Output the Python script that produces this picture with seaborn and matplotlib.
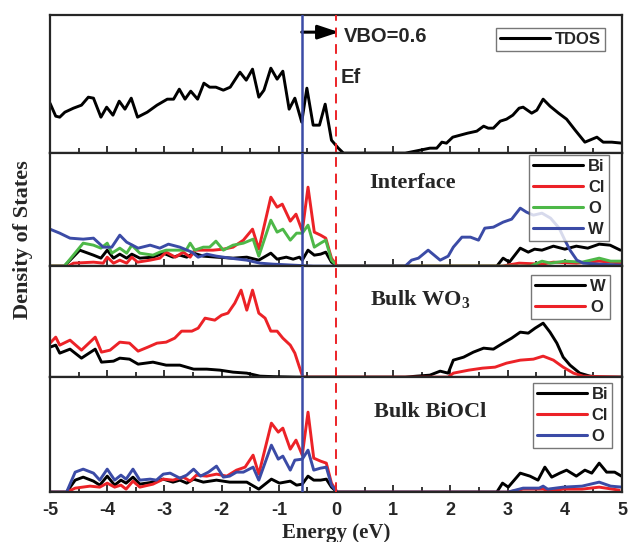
import matplotlib
matplotlib.use("Agg")
import matplotlib.pyplot as plt
import seaborn as sns

# ---- data (arbitrary DOS units) ----
tdos_e = [-5.0, -4.9, -4.83, -4.74, -4.59, -4.45, -4.33, -4.24, -4.11, -4.01, -3.90, -3.79, -3.69, -3.58,
          -3.47, -3.30, -3.13, -2.95, -2.84, -2.74, -2.64, -2.54, -2.42, -2.31, -2.21, -2.10, -1.97, -1.85,
          -1.68, -1.57, -1.46, -1.35, -1.26, -1.14, -1.03, -0.93, -0.82, -0.72, -0.60, -0.51, -0.40, -0.29,
          -0.19, -0.08, 0.04, 0.13, 1.21, 1.47, 1.64, 1.76, 1.85, 1.93, 2.04, 2.17, 2.30, 2.46, 2.58, 2.66,
          2.75, 2.87, 2.98, 3.09, 3.20, 3.27, 3.42, 3.51, 3.62, 3.74, 3.89, 4.03, 4.18, 4.35, 4.56, 4.67,
          4.82, 5.0]
tdos_v = [50, 37, 36, 41, 45, 48, 56, 55, 36, 46, 38, 52, 44, 55, 36, 41, 48, 54, 54, 64, 54, 62, 54, 70,
          66, 66, 63, 66, 81, 73, 84, 56, 63, 85, 74, 82, 44, 55, 31, 65, 28, 28, 49, 13, 5, 0, 0, 3, 5, 5,
          11, 10, 16, 18, 20, 22, 27, 25, 25, 32, 34, 38, 45, 46, 40, 43, 54, 47, 40, 34, 23, 11, 16, 11,
          11, 10]

# Interface
int_bi_e = [-5.0, -4.75, -4.48, -4.24, -4.11, -4.00, -3.89, -3.78, -3.66, -3.57, -3.43, -3.20, -3.02, -2.85,
            -2.73, -2.61, -2.49, -2.32, -2.09, -1.80, -1.56, -1.35, -1.14, -1.03, -0.87, -0.75, -0.64, -0.59,
            -0.49, -0.38, -0.27, -0.18, -0.08, 0.02, 2.81, 2.92, 3.03, 3.22, 3.36, 3.47, 3.6, 3.8, 4.0, 4.2,
            4.4, 4.6, 4.79, 4.97]
int_bi_v = [0, 0, 16, 11, 8, 16, 8, 12, 8, 12, 8, 9, 13, 9, 11, 9, 13, 10, 9, 8, 9, 6, 13, 7, 9, 7, 9, 6,
            16, 11, 12, 14, 4, 0, 0, 8, 4, 18, 14, 17, 16, 20, 17, 20, 18, 22, 21, 16]
int_cl_e = [-5.0, -4.68, -4.59, -4.24, -4.07, -4.00, -3.89, -3.78, -3.66, -3.57, -3.47, -3.25, -3.08, -2.97,
            -2.81, -2.67, -2.55, -2.47, -2.32, -2.15, -1.97, -1.80, -1.62, -1.46, -1.35, -1.14, -1.03, -0.94,
            -0.80, -0.70, -0.59, -0.49, -0.38, -0.27, -0.18, -0.08, 0.02, 2.9, 3.2, 3.6, 3.8, 4.2, 4.6, 5.0]
int_cl_v = [0, 0, 3, 4, 3, 9, 3, 6, 3, 9, 4, 6, 8, 14, 9, 14, 9, 16, 16, 16, 17, 19, 26, 37, 17, 69, 59, 62,
            45, 52, 35, 79, 34, 31, 28, 8, 0, 0, 3, 2, 4, 3, 5, 3]
int_o_e = [-5.0, -4.75, -4.42, -4.24, -4.11, -4.00, -3.92, -3.78, -3.66, -3.57, -3.43, -3.20, -3.08, -2.97,
           -2.79, -2.62, -2.55, -2.47, -2.32, -2.21, -2.10, -1.97, -1.80, -1.62, -1.45, -1.35, -1.14, -1.03,
           -0.93, -0.80, -0.69, -0.59, -0.49, -0.38, -0.27, -0.18, -0.08, 0.02, 3.4, 3.6, 3.75, 4.0, 4.3,
           4.6, 4.8, 5.0]
int_o_v = [0, 0, 23, 21, 18, 23, 13, 18, 13, 21, 13, 11, 14, 16, 16, 16, 23, 16, 19, 19, 25, 16, 21, 23, 27,
           10, 46, 34, 37, 26, 33, 33, 41, 19, 23, 26, 6, 0, 0, 5, 3, 5, 4, 8, 5, 5]
int_w_e = [-5.0, -4.83, -4.65, -4.42, -4.24, -4.07, -3.92, -3.78, -3.66, -3.46, -3.25, -3.08, -2.93, -2.73,
           -2.52, -2.41, -2.26, -2.09, -1.85, -1.56, -1.33, -1.10, -0.75, -0.4, 1.21, 1.32, 1.44, 1.61, 1.82,
           1.96, 2.05, 2.20, 2.35, 2.49, 2.60, 2.75, 2.92, 3.07, 3.22, 3.33, 3.45, 3.6, 3.75, 3.9, 4.0, 4.09,
           4.21, 4.32, 4.6, 5.0]
int_w_v = [37, 33, 28, 27, 28, 19, 19, 31, 24, 18, 21, 18, 22, 19, 14, 9, 12, 10, 8, 6, 3, 2, 1, 0, 0, 6, 8,
           16, 6, 10, 19, 29, 29, 26, 38, 39, 44, 47, 58, 54, 51, 53, 48, 38, 26, 16, 6, 3, 2, 1]

# Bulk WO3
wo3_w_e = [-5.0, -4.9, -4.83, -4.65, -4.45, -4.21, -4.10, -3.89, -3.78, -3.61, -3.46, -3.20, -2.97, -2.73,
           -2.49, -2.26, -2.03, -1.80, -1.56, -1.33, -1.10, -0.7, 1.21, 1.41, 1.64, 1.82, 1.96, 2.05, 2.23,
           2.40, 2.58, 2.75, 2.92, 3.07, 3.22, 3.36, 3.48, 3.62, 3.74, 3.86, 3.97, 4.09, 4.26, 4.44, 4.6, 5.0]
wo3_w_v = [30, 32, 24, 28, 19, 28, 15, 16, 19, 18, 13, 15, 12, 12, 8, 8, 7, 5, 4, 1, 0.5, 0, 0, 1, 2, 6, 4,
           17, 20, 25, 29, 28, 34, 39, 45, 44, 49, 54, 45, 34, 20, 12, 4, 1, 0, 0]
wo3_o_e = [-5.0, -4.9, -4.83, -4.65, -4.45, -4.21, -4.10, -3.95, -3.78, -3.61, -3.46, -3.29, -3.13, -2.97,
           -2.82, -2.70, -2.52, -2.41, -2.29, -2.12, -2.00, -1.89, -1.77, -1.66, -1.56, -1.46, -1.35, -1.24,
           -1.14, -1.03, -0.93, -0.80, -0.72, -0.64, -0.58, 1.96, 2.05, 2.32, 2.56, 2.78, 2.98, 3.22, 3.45,
           3.62, 3.80, 3.97, 4.15, 4.32, 5.0]
wo3_o_v = [34, 40, 32, 37, 27, 40, 25, 27, 35, 34, 26, 30, 34, 35, 39, 46, 46, 49, 59, 57, 62, 64, 74, 87,
           67, 87, 64, 59, 46, 46, 39, 32, 24, 10, 0, 0, 4, 7, 9, 10, 14, 17, 18, 21, 17, 10, 4, 1, 0]

# Bulk BiOCl
bio_bi_e = [-5.0, -4.71, -4.56, -4.42, -4.24, -4.13, -4.00, -3.87, -3.76, -3.67, -3.55, -3.43, -3.20, -3.02,
            -2.85, -2.73, -2.61, -2.49, -2.32, -2.09, -1.86, -1.56, -1.35, -1.13, -0.99, -0.80, -0.69, -0.59,
            -0.49, -0.39, -0.27, -0.17, -0.08, 0.02, 2.81, 2.91, 3.01, 3.22, 3.39, 3.53, 3.65, 3.77, 3.91,
            4.03, 4.20, 4.35, 4.47, 4.60, 4.73, 4.87, 4.99]
bio_bi_v = [0, 0, 12, 15, 11, 7, 16, 7, 12, 9, 15, 8, 10, 13, 10, 12, 9, 13, 10, 12, 10, 10, 3, 13, 9, 11,
            7, 8, 16, 12, 12, 13, 5, 0, 0, 9, 5, 19, 16, 12, 25, 15, 19, 22, 16, 22, 19, 29, 20, 20, 16]
bio_cl_e = [-5.0, -4.71, -4.56, -4.30, -4.13, -4.00, -3.87, -3.76, -3.67, -3.55, -3.43, -3.20, -3.02, -2.85,
            -2.67, -2.55, -2.44, -2.26, -2.09, -1.91, -1.74, -1.59, -1.45, -1.35, -1.13, -1.01, -0.93, -0.80,
            -0.70, -0.59, -0.49, -0.39, -0.27, -0.17, -0.08, 0.02, 3.0, 3.27, 3.62, 3.74, 3.97, 4.3, 4.60,
            4.95]
bio_cl_v = [0, 0, 4, 6, 5, 9, 5, 7, 3, 11, 5, 8, 13, 12, 15, 11, 17, 16, 18, 16, 22, 25, 37, 18, 69, 60, 64,
            43, 52, 37, 80, 34, 31, 29, 9, 0, 0, 3, 3, 1, 3, 3, 5, 2]
bio_o_e = [-5.0, -4.71, -4.56, -4.42, -4.24, -4.13, -4.00, -3.87, -3.76, -3.67, -3.55, -3.43, -3.25, -3.14,
           -3.02, -2.90, -2.73, -2.61, -2.49, -2.37, -2.23, -2.09, -1.97, -1.86, -1.74, -1.62, -1.45, -1.35,
           -1.13, -1.01, -0.93, -0.80, -0.72, -0.59, -0.49, -0.39, -0.27, -0.17, -0.08, 0.02, 3.0, 3.27,
           3.55, 3.62, 3.7, 3.97, 4.3, 4.60, 4.8, 5.0]
bio_o_v = [0, 0, 20, 23, 19, 12, 23, 12, 17, 13, 23, 12, 13, 12, 18, 19, 14, 17, 23, 16, 20, 26, 15, 16, 20,
           20, 25, 12, 47, 33, 36, 22, 32, 33, 42, 22, 24, 25, 7, 0, 0, 4, 4, 6, 3, 5, 6, 10, 6, 5]

vbm_bulk = -0.6
e_fermi = 0.0
x_ticks = [-5, -4, -3, -2, -1, 0, 1, 2, 3, 4, 5]

BLACK, RED, GREEN, BLUE = "#000000", "#ec2227", "#4db848", "#3b4ba6"
SANS = ["Liberation Sans", "DejaVu Sans"]
SERIF = ["Liberation Serif", "DejaVu Serif"]

sns.set_style("ticks")
plt.rcParams["font.family"] = SANS
plt.rcParams["font.weight"] = "bold"
plt.rcParams["axes.unicode_minus"] = False
plt.rcParams["mathtext.fontset"] = "custom"
plt.rcParams["mathtext.rm"] = "Liberation Serif:bold"
plt.rcParams["mathtext.bf"] = "Liberation Serif:bold"

fig = plt.figure(figsize=(6.29, 5.42), dpi=100)
gs = fig.add_gridspec(4, 1, height_ratios=[138, 113, 111, 115], hspace=0,
                      left=0.0795, right=0.989, top=0.972, bottom=0.092)
axes = [fig.add_subplot(gs[i]) for i in range(4)]

panels = [
    ([(tdos_e, tdos_v, BLACK, "TDOS")], 138, (0.970, 0.906), None, None),
    ([(int_bi_e, int_bi_v, BLACK, "Bi"), (int_cl_e, int_cl_v, RED, "Cl"),
      (int_o_e, int_o_v, GREEN, "O"), (int_w_e, int_w_v, BLUE, "W")], 113, (0.977, 0.985),
     "Interface", (0.633, 0.735)),
    ([(wo3_w_e, wo3_w_v, BLACK, "W"), (wo3_o_e, wo3_o_v, RED, "O")], 111, (0.979, 0.92),
     r"Bulk WO$_\mathbf{3}$", (0.647, 0.70)),
    ([(bio_bi_e, bio_bi_v, BLACK, "Bi"), (bio_cl_e, bio_cl_v, RED, "Cl"),
      (bio_o_e, bio_o_v, BLUE, "O")], 115, (0.983, 0.948), "Bulk BiOCl", (0.664, 0.696)),
]

for ax, (curves, ytop, leg_pos, title, title_pos) in zip(axes, panels):
    for e, v, col, lab in curves:
        sns.lineplot(x=e, y=v, ax=ax, color=col, lw=2.1, label=lab, estimator=None, sort=False)
    ax.axvline(vbm_bulk, color=BLUE, lw=1.8, zorder=4)
    ax.axvline(e_fermi, color=RED, lw=1.4, ls=(0, (5, 3.5)), zorder=4)
    ax.set_xlim(-5, 5)
    ax.set_ylim(0, ytop)
    ax.set_yticks([])
    ax.set_xticks(x_ticks)
    ax.set_xticks([t + 0.5 for t in x_ticks[:-1]], minor=True)
    ax.tick_params(axis="x", which="both", direction="in", width=1.3, top=False)
    ax.tick_params(axis="x", which="major", length=5, pad=7)
    ax.tick_params(axis="x", which="minor", length=3.5)
    ax.set_ylabel("")
    for s in ax.spines.values():
        s.set_linewidth(1.6)
    leg = ax.legend(loc="upper right", bbox_to_anchor=leg_pos, frameon=True, fancybox=False,
                    handlelength=3.0, handletextpad=0.3, labelspacing=0.35, borderpad=0.25,
                    borderaxespad=0, prop={"family": SANS, "weight": "bold", "size": 12})
    leg.get_frame().set_edgecolor("#555555")
    leg.get_frame().set_linewidth(1.0)
    for h in leg.get_lines():
        h.set_linewidth(2.2)
    if title:
        ax.text(*title_pos, title, transform=ax.transAxes, ha="center", va="center",
                family=SERIF, weight="bold", fontsize=16)

for ax in axes[:-1]:
    ax.tick_params(axis="x", labelbottom=False)
axes[-1].tick_params(axis="x", labelsize=13)
for lbl in axes[-1].get_xticklabels():
    lbl.set_fontweight("bold")
axes[-1].set_xlabel("Energy (eV)", family=SERIF, weight="bold", fontsize=15, labelpad=3)

# VBO arrow and labels on the top panel
top = axes[0]
top.annotate("", xy=(0.05, 0.877), xytext=(vbm_bulk, 0.877),
             xycoords=("data", "axes fraction"), textcoords=("data", "axes fraction"),
             arrowprops=dict(arrowstyle="-|>,head_length=0.9,head_width=0.3", color="black",
                             lw=2.2, mutation_scale=14, shrinkA=0, shrinkB=0))
top.text(0.13, 0.848, "VBO=0.6", transform=top.get_xaxis_transform(), ha="left", va="center",
         fontsize=14.5, weight="bold", family=SANS)
top.text(0.08, 0.551, "Ef", transform=top.get_xaxis_transform(), ha="left", va="center",
         fontsize=14.5, weight="bold", family=SANS)

fig.text(0.036, 0.557, "Density of States", rotation=90, ha="center", va="center",
         family=SERIF, weight="bold", fontsize=16)

fig.savefig("out.png", dpi=100)
